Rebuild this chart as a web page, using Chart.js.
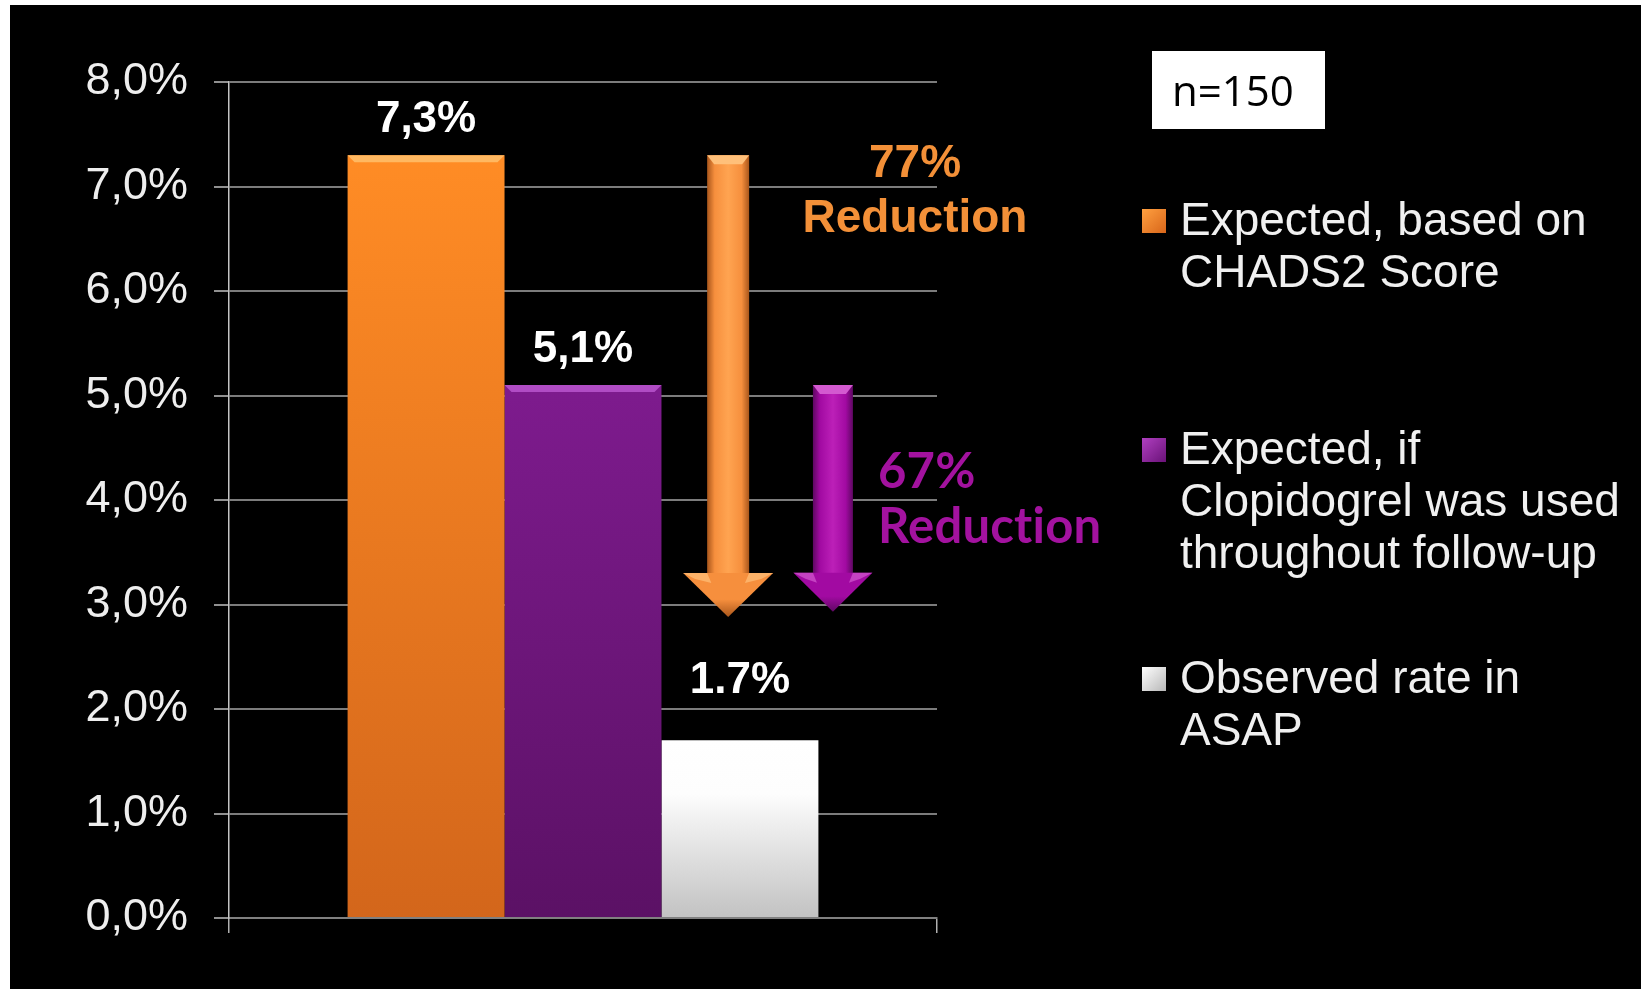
<!DOCTYPE html>
<html>
<head>
<meta charset="utf-8">
<script src="https://cdn.jsdelivr.net/npm/chart.js@4.4.1/dist/chart.umd.min.js"></script>
<style>
  html, body { margin: 0; padding: 0; background: #fff; }
  #wrap { position: absolute; left: 10px; top: 5px; width: 1631px; height: 984px; background: #000; }
  canvas { display: block; }
</style>
</head>
<body>
<div id="wrap"><canvas id="rateChart" width="1631" height="984"></canvas></div>
<script>
// stroke rate per year, one group of three bars
const categories = [''];
const seriesNames = [
  ['Expected, based on', 'CHADS2 Score'],
  ['Expected, if', 'Clopidogrel was used', 'throughout follow-up'],
  ['Observed rate in', 'ASAP']
];
const seriesValues = [7.3, 5.1, 1.7];
const decimalMarks = [',', ',', '.'];
const yMin = 0;
const yMax = 8;
const yStep = 1;
const reductionLabels = ['77%', '67%'];
const arrowTips = [2.88, 2.93];
const sampleNote = 'n=150';

const SANS = '"Liberation Sans", Arial, sans-serif';

const palette = [
  { top: '#ff8c25', bottom: '#d3661b', bevel: '#ffb861', marker: ['#ffa040', '#d8661a'] },
  { top: '#7e1b8e', bottom: '#5b1165', bevel: '#b04cc4', marker: ['#b040c0', '#6a1278'] },
  { top: '#ffffff', bottom: '#c2c2c2', bevel: '#ffffff', marker: ['#ffffff', '#b8b8b8'] }
];

function barFill(ctx, i) {
  const chart = ctx.chart;
  if (!chart.chartArea) return palette[i].top;
  const y = chart.scales.y;
  const g = chart.ctx.createLinearGradient(0, y.getPixelForValue(seriesValues[i]), 0, y.getPixelForValue(0));
  g.addColorStop(0, palette[i].top);
  if (i === 2) g.addColorStop(0.3, '#fdfdfd');
  g.addColorStop(1, palette[i].bottom);
  return g;
}

// bevel strip on top of each bar + value text above it
const barDecor = {
  id: 'barDecor',
  afterDatasetsDraw(chart, args, opts) {
    const { ctx } = chart;
    ctx.save();
    chart.data.datasets.forEach((ds, i) => {
      const bar = chart.getDatasetMeta(i).data[0];
      const l = bar.x - bar.width / 2, r = bar.x + bar.width / 2;
      if (i < 2) {
        ctx.fillStyle = palette[i].bevel;
        ctx.beginPath();
        ctx.moveTo(l, bar.y);
        ctx.lineTo(r, bar.y);
        ctx.lineTo(r - 7, bar.y + 7);
        ctx.lineTo(l + 7, bar.y + 7);
        ctx.closePath();
        ctx.fill();
      }
      ctx.font = 'bold 44px ' + SANS;
      ctx.fillStyle = '#ffffff';
      ctx.textAlign = 'center';
      ctx.textBaseline = 'alphabetic';
      const text = ds.data[0].toFixed(1).replace('.', decimalMarks[i]) + '%';
      ctx.fillText(text, bar.x, bar.y - opts.gaps[i]);
    });
    ctx.restore();
  }
};

// the two downward "reduction" arrows
const reductionArrows = {
  id: 'reductionArrows',
  afterDatasetsDraw(chart, args, opts) {
    const { ctx, chartArea, scales } = chart;
    ctx.save();
    opts.arrows.forEach((a, k) => {
      const cx = chartArea.left + a.at * chartArea.width;
      const yTop = scales.y.getPixelForValue(seriesValues[k]);
      const yTip = scales.y.getPixelForValue(arrowTips[k]);
      const yHead = yTip - a.head;
      const hw = a.shaft / 2, hh = a.headWidth / 2;

      let g = ctx.createLinearGradient(cx - hw, 0, cx + hw, 0);
      g.addColorStop(0, a.dark);
      g.addColorStop(0.18, a.mid);
      g.addColorStop(0.5, a.light);
      g.addColorStop(0.82, a.mid);
      g.addColorStop(1, a.dark);
      ctx.fillStyle = g;
      ctx.fillRect(cx - hw, yTop, a.shaft, yHead - yTop + 1);

      ctx.fillStyle = a.bevel;
      ctx.beginPath();
      ctx.moveTo(cx - hw, yTop);
      ctx.lineTo(cx + hw, yTop);
      ctx.lineTo(cx + hw - 7, yTop + 9);
      ctx.lineTo(cx - hw + 7, yTop + 9);
      ctx.closePath();
      ctx.fill();

      g = ctx.createLinearGradient(0, yHead, 0, yTip);
      g.addColorStop(0, a.mid);
      g.addColorStop(0.6, a.mid);
      g.addColorStop(1, a.dark);
      ctx.fillStyle = g;
      ctx.beginPath();
      ctx.moveTo(cx - hh, yHead);
      ctx.lineTo(cx + hh, yHead);
      ctx.lineTo(cx, yTip);
      ctx.closePath();
      ctx.fill();

      // lighter facets on the head
      ctx.fillStyle = a.bevel;
      ctx.globalAlpha = 0.7;
      [-1, 1].forEach((s) => {
        ctx.beginPath();
        ctx.moveTo(cx + s * hh, yHead);
        ctx.lineTo(cx + s * hw, yHead);
        ctx.lineTo(cx + s * hw * 0.8, yHead + 10);
        ctx.lineTo(cx + s * (hh - 12), yHead + 6);
        ctx.closePath();
        ctx.fill();
      });
      ctx.globalAlpha = 1;
    });

    opts.texts.forEach((t) => {
      ctx.font = t.font;
      ctx.letterSpacing = t.spacing || '0px'; // non-zero spacing keeps "ti" from joining
      ctx.fillStyle = t.color;
      ctx.textAlign = t.align;
      ctx.textBaseline = 'alphabetic';
      t.lines.forEach((line, j) => ctx.fillText(line, t.x, t.y + j * t.lineHeight));
    });
    ctx.letterSpacing = '0px';
    ctx.restore();
  }
};

// legend on the right + sample size box
const sideLegend = {
  id: 'sideLegend',
  afterDraw(chart, args, opts) {
    const { ctx } = chart;
    ctx.save();
    ctx.font = '46px ' + SANS;
    ctx.textAlign = 'left';
    ctx.textBaseline = 'alphabetic';
    seriesNames.forEach((lines, i) => {
      const base = opts.firstBaseline + i * opts.itemStep;
      const my = base - 26;
      const g = ctx.createLinearGradient(opts.x, my, opts.x + opts.marker, my + opts.marker);
      g.addColorStop(0, palette[i].marker[0]);
      g.addColorStop(1, palette[i].marker[1]);
      ctx.fillStyle = g;
      ctx.fillRect(opts.x, my, opts.marker, opts.marker);
      ctx.fillStyle = '#f0f0f0';
      lines.forEach((line, j) => ctx.fillText(line, opts.textX, base + j * opts.lineHeight));
    });

    const b = opts.note;
    ctx.fillStyle = '#ffffff';
    ctx.fillRect(b.x, b.y, b.w, b.h);
    ctx.fillStyle = '#000000';
    ctx.font = '42px "Open Sans", sans-serif';
    ctx.fillText(sampleNote, b.x + 20, b.y + 55);
    ctx.restore();
  }
};

const datasets = seriesValues.map((v, i) => ({
  label: seriesNames[i].join(' '),
  data: [v],
  backgroundColor: (c) => barFill(c, i),
  borderWidth: 0,
  barPercentage: 1,
  categoryPercentage: 0.665
}));

new Chart(document.getElementById('rateChart'), {
  type: 'bar',
  data: { labels: categories, datasets },
  plugins: [barDecor, reductionArrows, sideLegend],
  options: {
    responsive: false,
    animation: false,
    layout: { padding: { top: 77, right: 704, bottom: 51, left: 0 } },
    scales: {
      x: {
        afterFit: (s) => { s.height = 20; },
        ticks: { display: false },
        grid: { drawOnChartArea: false, drawTicks: true, tickLength: 15, color: '#b0b0b0', lineWidth: 1.5 },
        border: { display: true, color: '#808080', width: 2 }
      },
      y: {
        min: yMin,
        max: yMax,
        afterFit: (s) => { s.width = 219; },
        ticks: {
          stepSize: yStep,
          padding: 26,
          color: '#eeeeee',
          font: { family: SANS, size: 45 },
          callback: (v) => v.toFixed(1).replace('.', ',') + '%'
        },
        grid: { color: '#7c7c7c', lineWidth: 2, tickLength: 15, tickColor: '#909090' },
        border: { display: true, color: '#c4c4c4', width: 1.5 }
      }
    },
    plugins: {
      legend: { display: false },
      tooltip: { enabled: false },
      barDecor: { gaps: [23, 23, 47] },
      reductionArrows: {
        arrows: [
          { at: 0.705, shaft: 42, headWidth: 90, head: 44, light: '#ffa451', mid: '#f68f3d', dark: '#a9561b', bevel: '#ffc07a' },
          { at: 0.853, shaft: 40, headWidth: 79, head: 39, light: '#bc20b8', mid: '#a20aa2', dark: '#5e0862', bevel: '#d35ad0' }
        ],
        texts: [
          { lines: [reductionLabels[0], 'Reduction'], x: 905, y: 172, lineHeight: 55, align: 'center', color: '#f39038', font: 'bold 46px ' + SANS },
          { lines: [reductionLabels[1], 'Reduction'], x: 868, y: 483, lineHeight: 55, align: 'left', color: '#a3129f', font: 'bold 49px Lato, sans-serif', spacing: '0.2px' }
        ]
      },
      sideLegend: {
        x: 1132, textX: 1170, marker: 24, firstBaseline: 230, itemStep: 229, lineHeight: 52,
        note: { x: 1142, y: 46, w: 173, h: 78 }
      }
    }
  }
});
</script>
</body>
</html>
